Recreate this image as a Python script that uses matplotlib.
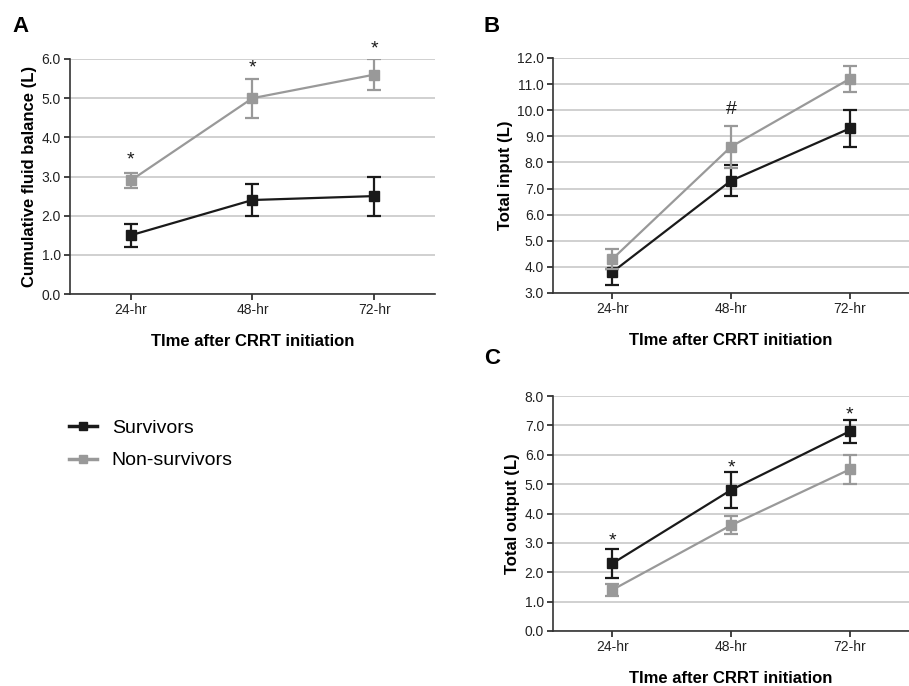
import numpy as np
import matplotlib
matplotlib.use('Agg')
import matplotlib.pyplot as plt
from matplotlib.lines import Line2D

plt.rcParams['font.family'] = ['Liberation Sans', 'DejaVu Sans']

times = ['24-hr', '48-hr', '72-hr']

# panel A - cumulative fluid balance
bal_surv = [1.5, 2.4, 2.5]
bal_surv_lo = [1.2, 2.0, 2.0]
bal_surv_hi = [1.8, 2.8, 3.0]
bal_non = [2.9, 5.0, 5.6]
bal_non_lo = [2.7, 4.5, 5.2]
bal_non_hi = [3.1, 5.5, 6.0]
bal_marks = ['*', '*', '*']
bal_mark_y = [3.3, 5.65, 6.15]

# panel B - total input
inp_surv = [3.8, 7.3, 9.3]
inp_surv_lo = [3.3, 6.7, 8.6]
inp_surv_hi = [3.9, 7.9, 10.0]
inp_non = [4.3, 8.6, 11.2]
inp_non_lo = [3.9, 7.8, 10.7]
inp_non_hi = [4.7, 9.4, 11.7]
inp_marks = ['', '#', '']
inp_mark_y = [0, 9.85, 0]

# panel C - total output
out_surv = [2.3, 4.8, 6.8]
out_surv_lo = [1.8, 4.2, 6.4]
out_surv_hi = [2.8, 5.4, 7.2]
out_non = [1.4, 3.6, 5.5]
out_non_lo = [1.2, 3.3, 5.0]
out_non_hi = [1.6, 3.9, 6.0]
out_marks = ['*', '*', '*']
out_mark_y = [2.92, 5.41, 7.21]

BLACK = '#1a1a1a'
GRAY = '#999999'


def series(ax, y, lo, hi, color, z):
    x = np.arange(1, len(y) + 1)
    y = np.array(y)
    err = [y - np.array(lo), np.array(hi) - y]
    ax.errorbar(x, y, yerr=err, color=color, marker='s', markersize=7,
                linewidth=1.6, elinewidth=1.6, capsize=5, capthick=1.6, zorder=z)


def panel(rect, ylabel, ylim, yticks, surv, non, marks, mark_y, black_on_top):
    ax = fig.add_axes(rect)
    zs, zn = (4, 3) if black_on_top else (3, 4)
    series(ax, surv[0], surv[1], surv[2], BLACK, zs)
    series(ax, non[0], non[1], non[2], GRAY, zn)
    for i, m in enumerate(marks):
        if m:
            ax.text(i + 1, mark_y[i], m, ha='center', va='baseline', fontsize=14, color=BLACK)
    ax.set_xlim(0.5, 3.5)
    ax.set_ylim(ylim)
    ax.set_yticks(yticks)
    ax.set_yticklabels(['%.1f' % t for t in yticks])
    ax.set_xticks([1, 2, 3])
    ax.set_xticklabels(times)
    ax.tick_params(labelsize=10, colors='#222222', length=4.5, width=1.2, pad=2)
    ax.grid(axis='y', color='#c8c8c8', linewidth=1.2)
    ax.set_axisbelow(True)
    ax.spines['top'].set_visible(False)
    ax.spines['right'].set_visible(False)
    ax.spines['left'].set_color('#333333')
    ax.spines['bottom'].set_color('#333333')
    ax.spines['left'].set_linewidth(1.2)
    ax.spines['bottom'].set_linewidth(1.2)
    ax.set_ylabel(ylabel, fontsize=12, fontweight='bold', labelpad=3)
    ax.set_xlabel('TIme after CRRT initiation', fontsize=12, fontweight='bold', labelpad=12)
    return ax


fig = plt.figure(figsize=(9.09, 6.86), dpi=100)

panel([0.077, 0.5714, 0.4015, 0.3426], 'Cumulative fluid balance (L)', (0, 6),
      [0, 1, 2, 3, 4, 5, 6],
      (bal_surv, bal_surv_lo, bal_surv_hi), (bal_non, bal_non_lo, bal_non_hi),
      bal_marks, bal_mark_y, True)
panel([0.6084, 0.5729, 0.3916, 0.3426], 'Total input (L)', (3, 12),
      [3, 4, 5, 6, 7, 8, 9, 10, 11, 12],
      (inp_surv, inp_surv_lo, inp_surv_hi), (inp_non, inp_non_lo, inp_non_hi),
      inp_marks, inp_mark_y, False)
panel([0.6084, 0.0802, 0.3916, 0.3425], 'Total output (L)', (0, 8),
      [0, 1, 2, 3, 4, 5, 6, 7, 8],
      (out_surv, out_surv_lo, out_surv_hi), (out_non, out_non_lo, out_non_hi),
      out_marks, out_mark_y, True)

fig.text(12 / 909, 1 - 32 / 686, 'A', fontsize=16, fontweight='bold')
fig.text(484 / 909, 1 - 32 / 686, 'B', fontsize=16, fontweight='bold')
fig.text(484 / 909, 1 - 364 / 686, 'C', fontsize=16, fontweight='bold')

handles = [Line2D([], [], color=BLACK, marker='s', markersize=6, linewidth=2.5),
           Line2D([], [], color=GRAY, marker='s', markersize=6, linewidth=2.5)]
fig.legend(handles, ['Survivors', 'Non-survivors'], loc='upper left',
           bbox_to_anchor=(51 / 909, 1 - 402 / 686), frameon=False, fontsize=14,
           handlelength=1.45, handletextpad=0.77, labelspacing=0.75)

fig.savefig('out.png', dpi=100)
